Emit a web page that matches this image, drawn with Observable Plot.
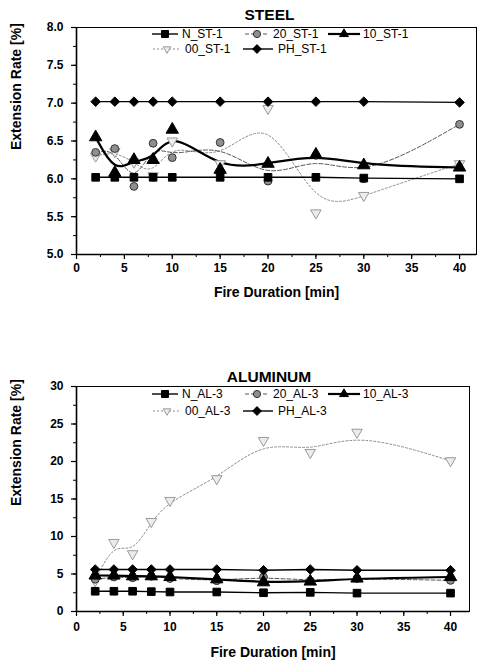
<!DOCTYPE html>
<html><head><meta charset="utf-8">
<script src="https://cdn.jsdelivr.net/npm/d3@7"></script>
<script src="https://cdn.jsdelivr.net/npm/@observablehq/plot@0.6"></script>
<style>
body{margin:0;background:#fff;font-family:"Liberation Sans",Arial,sans-serif}
#c{width:477px}
#c svg{display:block}
</style>
</head><body><div id="c"></div>
<script>
// ---------- data ----------
const minutes = [2, 4, 6, 8, 10, 15, 20, 25, 30, 40];
const steelNames = ["N_ST-1", "20_ST-1", "10_ST-1", "00_ST-1", "PH_ST-1"];
const alNames = ["N_AL-3", "20_AL-3", "10_AL-3", "00_AL-3", "PH_AL-3"];

const steelN  = [6.02, 6.02, 6.02, 6.02, 6.02, 6.02, 6.02, 6.02, 6.01, 6.00];
const steel20 = [6.35, 6.40, 5.90, 6.47, 6.28, 6.48, 5.97, 6.31, 6.00, 6.72];
const steel10 = [6.55, 6.08, 6.25, 6.25, 6.65, 6.12, 6.20, 6.32, 6.18, 6.15];
const steel00 = [6.30, 6.36, 6.22, 6.04, 6.50, 6.20, 6.93, 5.55, 5.78, 6.20];
const steelPH = [7.02, 7.02, 7.02, 7.02, 7.02, 7.02, 7.02, 7.02, 7.02, 7.01];

const alN  = [2.70, 2.70, 2.70, 2.65, 2.60, 2.60, 2.50, 2.55, 2.45, 2.45];
const al20 = [4.30, 4.60, 4.50, 4.70, 4.40, 4.10, 4.60, 4.10, 4.40, 4.15];
const al10 = [4.80, 4.80, 4.70, 4.70, 4.60, 4.30, 3.90, 4.00, 4.40, 4.60];
const al00 = [4.10, 9.20, 7.70, 12.0, 14.8, 17.7, 22.8, 21.2, 23.9, 20.1];
const alPH = [5.60, 5.60, 5.60, 5.60, 5.60, 5.60, 5.50, 5.60, 5.50, 5.50];

const xTicks = [0, 5, 10, 15, 20, 25, 30, 35, 40];
const steelYTicks = [5.0, 5.5, 6.0, 6.5, 7.0, 7.5, 8.0];
const alYTicks = [0, 5, 10, 15, 20, 25, 30];

// ---------- styles (order: N, 20, 10, 00, PH) ----------
const styles = [
  {symbol: "square", r: 4.3, fill: "#000", stroke: "#000", line: "#000", width: 1.4, dash: null, curve: "linear"},
  {symbol: "circle", r: 3.9, fill: "#8f8f8f", stroke: "#333", line: "#555", width: 1, dash: "4,2", curve: "basis"},
  {symbol: "triangle", r: 4.6, fill: "#000", stroke: "#000", line: "#000", width: 2.2, dash: null, curve: "basis"},
  {symbol: "triangle", rotate: 180, r: 3.9, fill: "#ececec", stroke: "#9a9a9a", line: "#8c8c8c", width: 1, dash: "2,2", curve: "basis"},
  {symbol: "diamond2", r: 4.3, fill: "#000", stroke: "#000", line: "#000", width: 1.4, dash: null, curve: "linear"}
];
const drawOrder = [3, 1, 2, 0, 4];

// legend layout (svg-local pixels): [lineStart, lineEnd, marker, text, row]
const legendLayout = [
  [152, 178, 165, 182, 0],
  [245, 269, 257, 273, 0],
  [328, 360, 344, 363, 0],
  [153, 180, 167, 185, 1],
  [243, 273, 257, 278, 1]
];

function panel(cfg) {
  const rows = cfg.series.map((vals, k) => minutes.map((m, i) => ({x: m, y: vals[i], s: cfg.names[k], k})));
  const marks = [];
  const [y0, y1] = cfg.yDomain;
  const minorY = d3.range(y0, y1 + 1e-9, cfg.yMinor);
  const minorX = d3.range(0, 40.01, 2.5);
  marks.push(Plot.axisY(minorY, {tickSize: 3, text: null, label: null, strokeWidth: 1}));
  marks.push(Plot.axisX(minorX, {tickSize: 3, text: null, label: null, strokeWidth: 1}));
  marks.push(Plot.axisY(cfg.yTicks, {tickSize: 5, tickPadding: 8, tickFormat: cfg.yFormat, label: null,
    fontSize: 12, fontWeight: "bold", strokeWidth: 1.2}));
  marks.push(Plot.axisX(xTicks, {tickSize: 5, tickPadding: cfg.xPad, label: null,
    fontSize: 12, fontWeight: "bold", strokeWidth: 1.2}));
  marks.push(Plot.frame({stroke: "#000", strokeWidth: 1}));
  marks.push(Plot.ruleX([0], {stroke: "#000", strokeWidth: 1.6}));
  marks.push(Plot.ruleY([y0], {stroke: "#000", strokeWidth: 1.6}));
  for (const k of drawOrder) {
    const st = styles[k];
    marks.push(Plot.line(rows[k], {x: "x", y: "y", curve: st.curve, stroke: st.line,
      strokeWidth: st.width, strokeDasharray: st.dash}));
  }
  for (const k of drawOrder) {
    const st = styles[k];
    marks.push(Plot.dot(rows[k], {x: "x", y: "y", symbol: st.symbol, r: st.r, rotate: st.rotate || 0,
      fill: st.fill, stroke: st.stroke, strokeWidth: 1}));
  }
  marks.push(Plot.text([cfg.title], {frameAnchor: "top", dx: cfg.titleDx, dy: cfg.titleDy, lineAnchor: "middle",
    fontSize: 15.5, fontWeight: "bold"}));
  marks.push(Plot.text(["Fire Duration [min]"], {frameAnchor: "bottom", dy: cfg.xLabelDy, lineAnchor: "middle",
    fontSize: 14, fontWeight: "bold"}));
  marks.push(Plot.text(["Extension Rate [%]"], {frameAnchor: "left", dx: -60, dy: cfg.yLabelDy, rotate: -90,
    lineAnchor: "middle", fontSize: 14, fontWeight: "bold"}));

  const svg = Plot.plot({
    width: 477, height: cfg.height,
    marginLeft: 76, marginRight: cfg.marginRight, marginTop: cfg.marginTop, marginBottom: cfg.marginBottom,
    style: {fontFamily: '"Liberation Sans", Arial, sans-serif', color: "#000", background: "#fff"},
    x: {domain: [0, cfg.xMax]},
    y: {domain: cfg.yDomain},
    marks
  });

  // legend (not data marks)
  const g = d3.select(svg).append("g").attr("font-size", 12).attr("text-anchor", "start")
    .attr("font-family", '"Liberation Sans", Arial, sans-serif');
  const symMap = {square: d3.symbolSquare, circle: d3.symbolCircle, triangle: d3.symbolTriangle2, diamond2: d3.symbolDiamond2};
  legendLayout.forEach(([a, b, m, t, row], k) => {
    const st = styles[k];
    const y = cfg.legendY[row];
    g.append("line").attr("x1", a).attr("x2", b).attr("y1", y).attr("y2", y)
      .attr("stroke", st.line).attr("stroke-width", st.width).attr("stroke-dasharray", st.dash);
    g.append("path").attr("d", d3.symbol(symMap[st.symbol], Math.PI * st.r * st.r * 0.85)())
      .attr("transform", `translate(${m},${y}) rotate(${st.rotate || 0})`)
      .attr("fill", st.fill).attr("stroke", st.stroke);
    g.append("text").attr("x", t).attr("y", y).attr("dy", "0.35em").attr("text-anchor", "start").text(cfg.names[k]);
  });
  return svg;
}

const c = document.getElementById("c");
c.appendChild(panel({
  title: "STEEL", names: steelNames,
  series: [steelN, steel20, steel10, steel00, steelPH],
  yDomain: [5, 8], yTicks: steelYTicks, yMinor: 0.25, yFormat: ".1f",
  height: 310, marginTop: 27, marginBottom: 56, marginRight: 1, xMax: 41.77,
  titleDx: -7, titleDy: -12, xLabelDy: 38, yLabelDy: 9, xPad: 4,
  legendY: [34, 49]
}));
c.appendChild(panel({
  title: "ALUMINUM", names: alNames,
  series: [alN, al20, al10, al00, alPH],
  yDomain: [0, 30], yTicks: alYTicks, yMinor: 2.5, yFormat: "d",
  height: 352, marginTop: 76, marginBottom: 51, marginRight: 8, xMax: 42.03,
  titleDx: -4, titleDy: -9, xLabelDy: 41, yLabelDy: 7, xPad: 6,
  legendY: [84, 101]
}));
</script>
</body></html>
